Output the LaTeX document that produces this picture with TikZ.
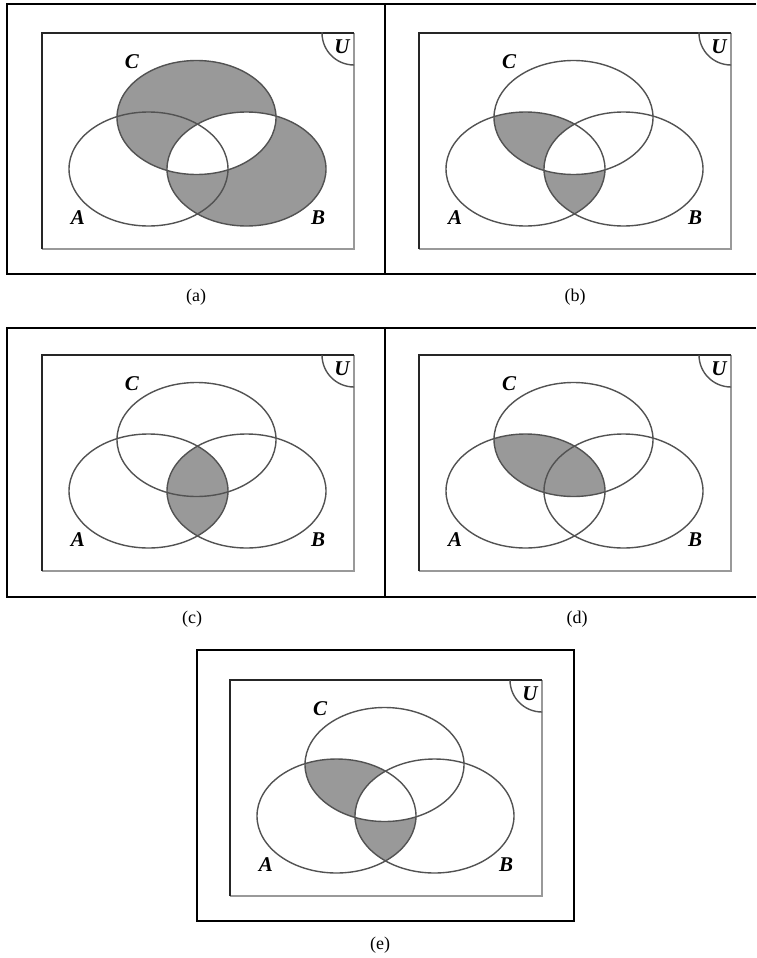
\documentclass[tikz,border=0pt]{standalone}
\usepackage{fontspec}
\setmainfont{Liberation Serif}
\begin{document}
\begin{tikzpicture}[x=1pt,y=-1pt,
  ell/.style={draw=black!68, line width=1.4pt},
  shaded/.style={fill=black!40},
  setlbl/.style={font=\fontsize{21}{21}\selectfont\bfseries\itshape, inner sep=0pt},
  captxt/.style={font=\fontsize{18}{18}\selectfont, inner sep=0pt},
  frame/.style={draw=black, line width=1.4pt},
  rectdark/.style={draw=black!85, line width=1.1pt},
  rectlight/.style={draw=black!40, line width=1.1pt},
]
\useasboundingbox (0,0) rectangle (756,958);
\def\rx{79.5}\def\ry{57}
% #1 dx, #2 dy, #3 prefix, #4 shading code
\newcommand\vennpanel[4]{%
\begin{scope}[shift={(#1,#2)}]
  \coordinate (#3A) at (148.5,169);
  \coordinate (#3B) at (246.5,169);
  \coordinate (#3C) at (196.5,117.5);
  \coordinate (#3tl) at (42,33);
  \coordinate (#3tr) at (354,33);
  \coordinate (#3br) at (354,249);
  \coordinate (#3bl) at (42,249);
  #4
  \draw[ell] (#3A) ellipse [x radius=\rx, y radius=\ry];
  \draw[ell] (#3B) ellipse [x radius=\rx, y radius=\ry];
  \draw[ell] (#3C) ellipse [x radius=\rx, y radius=\ry];
  \draw[rectlight] (#3tr) -- (#3br) -- (#3bl);
  \draw[rectdark] (#3bl) -- (#3tl) -- (#3tr);
  \begin{scope}
    \clip (#3tl) rectangle (#3br);
    \draw[ell] (#3tr) circle [radius=32];
  \end{scope}
  \node[setlbl] (#3lC) at (132,62) {C};
  \node[setlbl] (#3lA) at (78,218) {A};
  \node[setlbl] (#3lB) at (318,218) {B};
  \node[setlbl] (#3lU) at (342,47) {U};
\end{scope}}
% outer frames
\draw[frame] (756,4) -- (7,4) -- (7,274) -- (756,274);
\draw[frame] (385,4) -- (385,274);
\draw[frame] (756,328) -- (7,328) -- (7,597) -- (756,597);
\draw[frame] (385,328) -- (385,597);
\draw[frame] (197,650) rectangle (574,921);
% (a) C xor B
\vennpanel{0}{0}{a}{\fill[shaded, even odd rule] (aC) ellipse [x radius=\rx, y radius=\ry] (aB) ellipse [x radius=\rx, y radius=\ry];}
% (b) A and (B xor C)
\vennpanel{377}{0}{b}{\begin{scope}\clip (bA) ellipse [x radius=\rx, y radius=\ry];
  \fill[shaded, even odd rule] (bB) ellipse [x radius=\rx, y radius=\ry] (bC) ellipse [x radius=\rx, y radius=\ry];\end{scope}}
% (c) A and B
\vennpanel{0}{322}{c}{\begin{scope}\clip (cA) ellipse [x radius=\rx, y radius=\ry];
  \fill[shaded] (cB) ellipse [x radius=\rx, y radius=\ry];\end{scope}}
% (d) A and C
\vennpanel{377}{322}{d}{\begin{scope}\clip (dA) ellipse [x radius=\rx, y radius=\ry];
  \fill[shaded] (dC) ellipse [x radius=\rx, y radius=\ry];\end{scope}}
% (e) A and (B xor C)
\vennpanel{188}{647}{e}{\begin{scope}\clip (eA) ellipse [x radius=\rx, y radius=\ry];
  \fill[shaded, even odd rule] (eB) ellipse [x radius=\rx, y radius=\ry] (eC) ellipse [x radius=\rx, y radius=\ry];\end{scope}}
% captions
\node[captxt] (capa) at (196,297) {(a)};
\node[captxt] (capb) at (575,297) {(b)};
\node[captxt] (capc) at (192,619) {(c)};
\node[captxt] (capd) at (577,619) {(d)};
\node[captxt] (cape) at (380,945) {(e)};
\end{tikzpicture}
\end{document}
